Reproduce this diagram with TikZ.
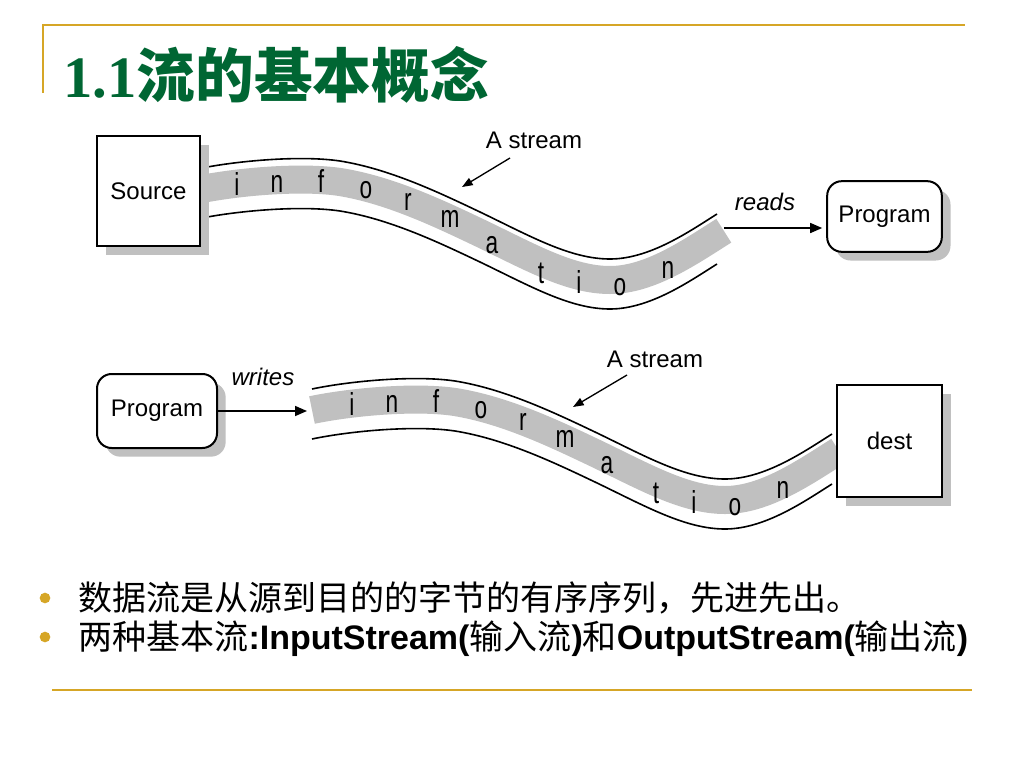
\documentclass[tikz,border=0pt]{standalone}
\usepackage{fontspec}
\setmainfont{Liberation Sans}
\newfontfamily\titlefont{Liberation Serif}
\newfontfamily\cjk{Noto Sans CJK SC}
\usetikzlibrary{arrows.meta,shadows}

\definecolor{slidegold}{RGB}{214,166,38}
\definecolor{titlegreen}{RGB}{0,102,51}
\definecolor{bandgray}{RGB}{192,192,192}

\newcommand{\tallch}[1]{\scalebox{1}[1.4]{#1}}

\tikzset{every picture/.style={line width=0.75pt}}
\tikzset{
	box/.style={draw, line width=1.5pt, fill=white, inner sep=0pt, font=\fontsize{18}{18}\selectfont,
		general shadow={fill=bandgray, shadow xshift=6.5pt, shadow yshift=-6.5pt}},
	roundbox/.style={box, rounded corners=11pt},
	letter/.style={anchor=base, inner sep=0pt, font=\fontsize{17}{17}\selectfont},
	lbl/.style={inner sep=0pt, font=\fontsize{18}{18}\selectfont},
	flow/.style={line width=1.2pt, -{Triangle[length=9pt,width=7.5pt]}},
	pointer/.style={line width=1pt, -{Triangle[length=8pt,width=6pt]}},
	band/.style={draw=bandgray, line width=21pt},
	rim/.style={line width=1.2pt},
	goldline/.style={draw=slidegold, line width=1.6pt},
	dot/.style={circle, fill=slidegold, inner sep=0pt, minimum size=8pt},
	bullettext/.style={anchor=base west, inner sep=0pt, font=\fontsize{25.5}{25.5}\selectfont}
}
% the curved stream with its letters: #1 name prefix, #2 shift
\newcommand{\infostream}[2]{%
	\begin{scope}[shift={#2}]
		\draw[band, shorten >=-6pt, shift={(0,-4)}] (197,194) .. controls (235,186) and (300,180) .. (340,186) .. controls (390,194) and (440,218) .. (480,237) .. controls (530,261) and (570,284) .. (610,284) .. controls (650,284) and (690,256) .. (717,239) ;
		\draw[rim, shift={(0,-25)}] (197,194) .. controls (235,186) and (300,180) .. (340,186) .. controls (390,194) and (440,218) .. (480,237) .. controls (530,261) and (570,284) .. (610,284) .. controls (650,284) and (690,256) .. (717,239) ;
		\draw[rim, shift={(0,25)}] (197,194) .. controls (235,186) and (300,180) .. (340,186) .. controls (390,194) and (440,218) .. (480,237) .. controls (530,261) and (570,284) .. (610,284) .. controls (650,284) and (690,256) .. (717,239) ;
		% Text Node
		\node[letter] (#1c1) at (237,195) {\tallch{i}};
		\node[letter] (#1c2) at (277,192) {\tallch{n}};
		\node[letter] (#1c3) at (321,192) {\tallch{f}};
		\node[letter] (#1c4) at (366,198) {\tallch{o}};
		\node[letter] (#1c5) at (408,210) {\tallch{r}};
		\node[letter] (#1c6) at (450,227) {\tallch{m}};
		\node[letter] (#1c7) at (492,253) {\tallch{a}};
		\node[letter] (#1c8) at (541,283) {\tallch{t}};
		\node[letter] (#1c9) at (579,293) {\tallch{i}};
		\node[letter] (#1c10) at (620,295) {\tallch{o}};
		\node[letter] (#1c11) at (668,278) {\tallch{n}};
	\end{scope}}

\begin{document}
\begin{tikzpicture}[x=0.75pt,y=0.75pt,yscale=-1,xscale=1]
	\useasboundingbox (0,0) rectangle (1024,768);
	\fill[white] (0,0) rectangle (1024,768);

	% title bar
	\draw[goldline] (42,25) -- (965,25);
	\draw[goldline] (43,25) -- (43,93);
	\node[anchor=base west, inner sep=0pt, text=titlegreen, font=\fontsize{44}{44}\selectfont] (ttl) at (63,97) {\titlefont\bfseries 1.1\cjk 流的基本概念};

	% reading stream
	\infostream{top}{(0,0)}
	\node[box, minimum width=77pt, minimum height=82.5pt] (src) at (148.5,191) {Source};
	\node[roundbox, minimum width=86pt, minimum height=53pt] (prog1) at (884.5,216.5) {Program};
	\node[lbl] (as1) at (534,140) {A stream};
	\coordinate (as1tail) at (510,158);
	\coordinate (as1tip) at (462,187);
	\draw[pointer] (as1tail) -- (as1tip);
	\node[lbl, font=\fontsize{18}{18}\selectfont\itshape] (reads) at (765,202) {reads};
	\coordinate (rtail) at (724,228);
	\draw[flow, shorten >=3pt] (rtail) -- (rtail -| prog1.west);

	% writing stream
	\infostream{bot}{(115,220)}
	\node[roundbox, minimum width=90pt, minimum height=55.5pt] (prog2) at (157,411) {Program};
	\node[box, minimum width=79pt, minimum height=84pt] (dest) at (889.5,441) {dest};
	\node[lbl] (as2) at (655,359) {A stream};
	\coordinate (as2tail) at (627,375);
	\coordinate (as2tip) at (573,407);
	\draw[pointer] (as2tail) -- (as2tip);
	\node[lbl, font=\fontsize{18}{18}\selectfont\itshape] (writes) at (263,377) {writes};
	\coordinate (wtip) at (307,411);
	\draw[flow] (prog2.east) -- (wtip);

	% bullets
	\node[dot] (d1) at (45,598) {};
	\node[bullettext] (item1) at (78,610) {\cjk 数据流是从源到目的的字节的有序序列，先进先出。};
	\node[dot] (d2) at (45,637) {};
	\node[bullettext] (item2) at (78,649) {{\cjk 两种基本流}\textbf{:InputStream(}{\cjk 输入流}\textbf{)}{\cjk 和}\textbf{OutputStream(}{\cjk 输出流}\textbf{)}};
	\draw[goldline] (52,690) -- (972,690);
\end{tikzpicture}
\end{document}
